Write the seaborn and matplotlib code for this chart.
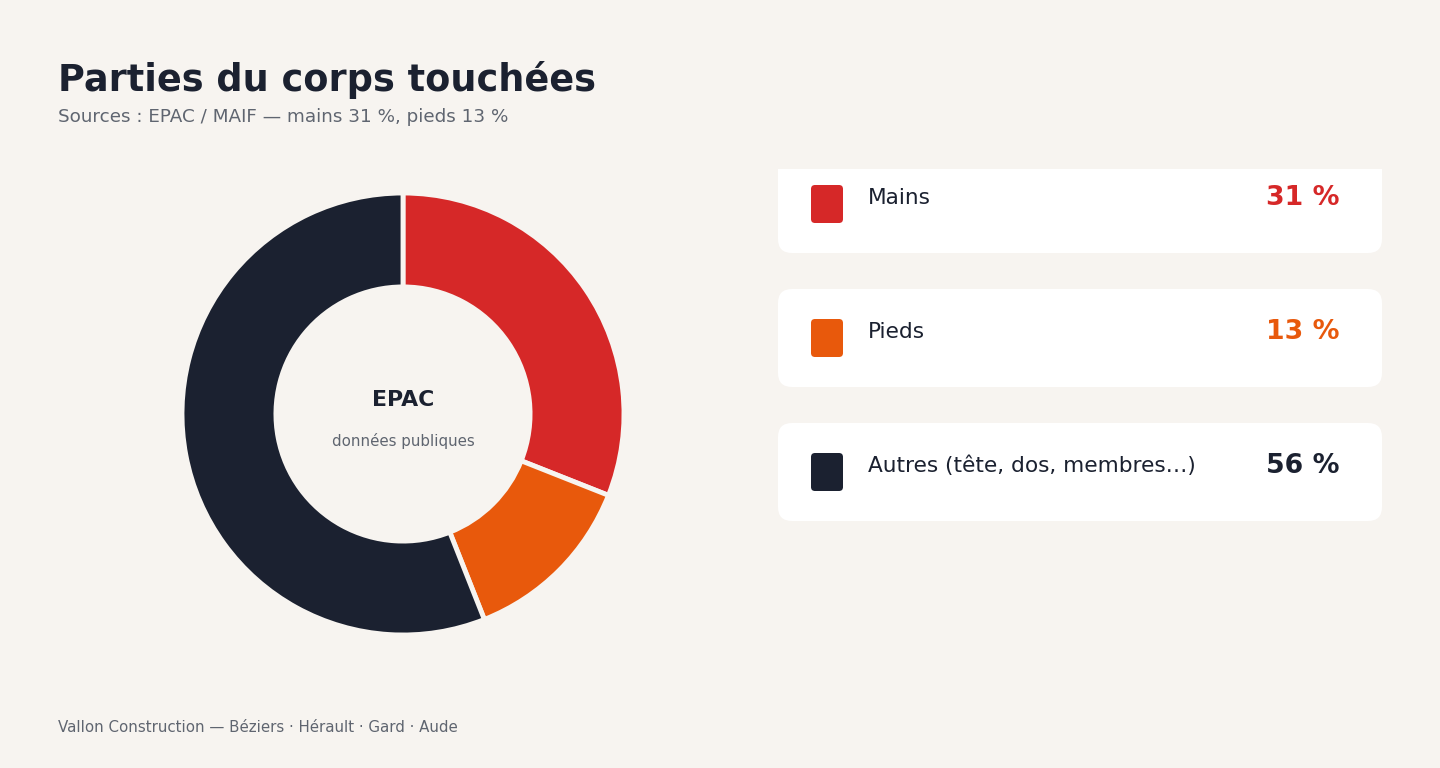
import matplotlib
matplotlib.use("Agg")
import matplotlib.pyplot as plt
import seaborn as sns
from matplotlib.patches import FancyBboxPatch

# data
parts = ["Mains", "Pieds", "Autres (tête, dos, membres…)"]
shares = [31, 13, 56]
colors = ["#d62828", "#e8590c", "#1b2130"]

BG = "#f7f4f0"
DARK = "#1b2130"
GREY = "#5f6570"
W, H = 1440, 768

sns.set_theme(style="white", rc={"figure.facecolor": BG, "axes.facecolor": BG})
plt.rcParams["font.family"] = ["DejaVu Sans"]

fig = plt.figure(figsize=(W / 100, H / 100), dpi=100)


def fx(px):
    return px / W


def fy(py):
    return 1 - py / H


# titles
fig.text(fx(58), fy(80), "Parties du corps touchées", fontsize=26.4, fontweight="bold",
         color=DARK, va="center", ha="left")
fig.text(fx(58), fy(117), "Sources : EPAC / MAIF — mains 31 %, pieds 13 %", fontsize=13.2,
         color=GREY, va="center", ha="left")
fig.text(fx(58), fy(728), "Vallon Construction — Béziers · Hérault · Gard · Aude", fontsize=10.8,
         color=GREY, va="center", ha="left")

# donut
cx, cy, r = 403, 414, 221
ax = fig.add_axes([fx(cx - r), fy(cy + r), 2 * r / W, 2 * r / H])
ax.pie(shares, colors=colors, startangle=90, counterclock=False, radius=1,
       wedgeprops=dict(width=0.425, edgecolor=BG, linewidth=3.5))
ax.set_xlim(-1, 1)
ax.set_ylim(-1, 1)
ax.set_aspect("equal")
ax.axis("off")
ax.text(0, 0.065, "EPAC", ha="center", va="center", fontsize=15.8, fontweight="bold", color=DARK)
ax.text(0, -0.12, "données publiques", ha="center", va="center", fontsize=10.8, color=GREY)

# legend cards, in pixel coordinates (clipped at top like the reference)
lx0, lx1, ly0, ly1 = 770, 1395, 169, 540
lax = fig.add_axes([fx(lx0), fy(ly1), (lx1 - lx0) / W, (ly1 - ly0) / H])
lax.set_xlim(lx0, lx1)
lax.set_ylim(ly1, ly0)
lax.axis("off")

card_tops = [155, 289, 423]
card_h = 98
for name, val, col, top in zip(parts, shares, colors, card_tops):
    card = FancyBboxPatch((778 + 14, top + 14), 604 - 28, card_h - 28,
                          boxstyle="round,pad=14", facecolor="white", edgecolor="none")
    lax.add_patch(card)
    mid = top + 43
    sw = FancyBboxPatch((811 + 4, mid - 13 + 4), 32 - 8, 38 - 8,
                        boxstyle="round,pad=4", facecolor=col, edgecolor="none")
    lax.add_patch(sw)
    lax.text(868, mid, name, fontsize=15.6, color=DARK, va="center", ha="left")
    lax.text(1340, mid, f"{val} %", fontsize=19.3, fontweight="bold", color=col,
             va="center", ha="right")

fig.savefig("out.png", dpi=100, facecolor=BG)
